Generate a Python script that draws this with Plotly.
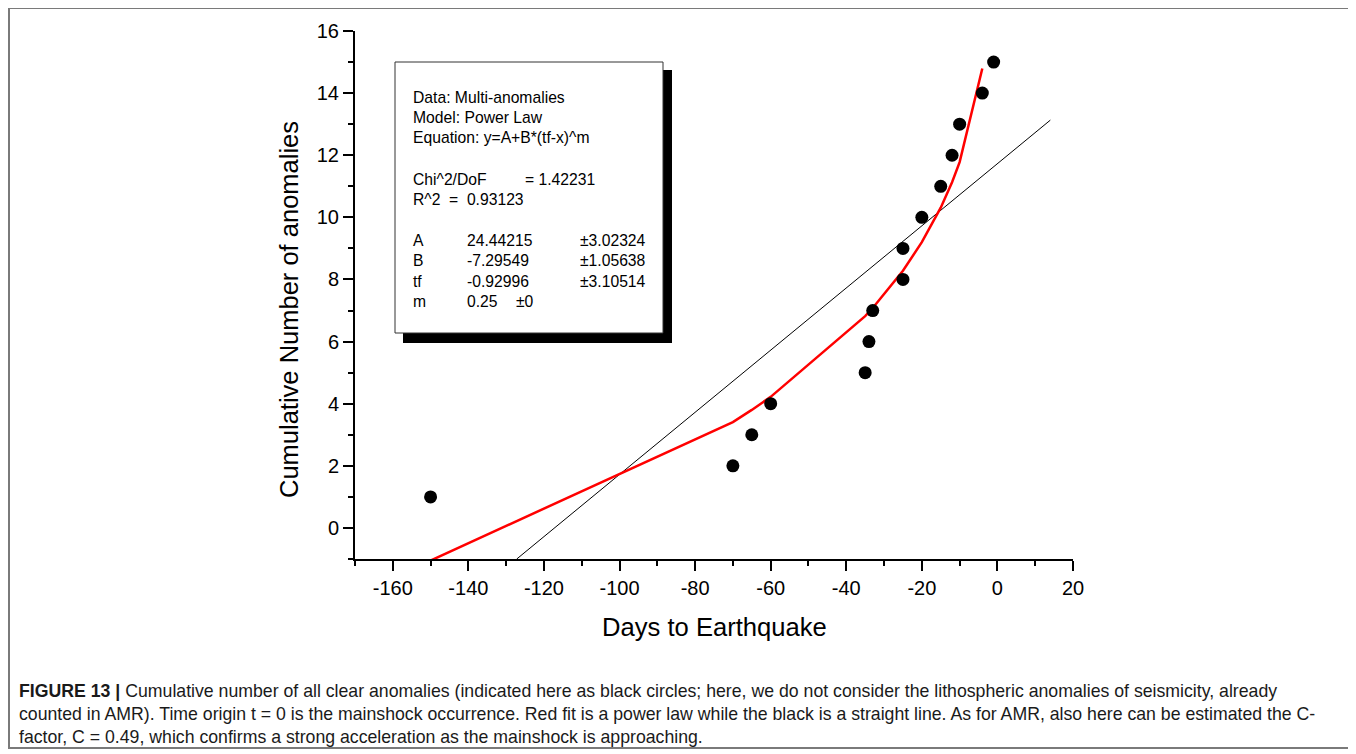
import plotly.graph_objects as go

# ---- data ----
days = [-150, -70, -65, -60, -35, -34, -33, -25, -25, -20, -15, -12, -10, -4, -1]
counts = [1, 2, 3, 4, 5, 6, 7, 8, 9, 10, 11, 12, 13, 14, 15]

power_fit_x = [-150, -70, -65, -60, -35, -34, -33, -25, -20, -15, -12, -10, -4]
power_fit_y = [-1.05, 3.41, 3.80, 4.22, 6.82, 6.95, 7.08, 8.28, 9.20, 10.31, 11.13, 11.78, 14.79]

linear_fit_x = [-127.2, 14.0]
linear_fit_y = [-1.0, 13.13]

x_range = [-170, 20]
y_range = [-1, 16]
x_tickvals = [-160, -140, -120, -100, -80, -60, -40, -20, 0, 20]
x_ticktext = ["-160", "-140", "-120", "-100", "-80", "-60", "-40", "-20", "0", "20"]
y_tickvals = [0, 2, 4, 6, 8, 10, 12, 14, 16]
y_ticktext = ["0", "2", "4", "6", "8", "10", "12", "14", "16"]

box_lines = ["Data: Multi-anomalies", "Model: Power Law", "Equation: y=A+B*(tf-x)^m"]
stat_labels = ["Chi^2/DoF", "R^2"]
stat_values = ["= 1.42231", "=  0.93123"]
param_names = ["A", "B", "tf", "m"]
param_values = ["24.44215", "-7.29549", "-0.92996", "0.25"]
param_errors = ["±3.02324", "±1.05638", "±3.10514", "±0"]

caption_lines = [
    "<b>FIGURE 13 |</b> Cumulative number of all clear anomalies (indicated here as black circles; here, we do not consider the lithospheric anomalies of seismicity, already",
    "counted in AMR). Time origin t = 0 is the mainshock occurrence. Red fit is a power law while the black is a straight line. As for AMR, also here can be estimated the C-",
    "factor, C = 0.49, which confirms a strong acceleration as the mainshock is approaching.",
]

# ---- layout geometry (window pixels; page body has an 8px margin) ----
OFF = 8
W, H = 1356 - OFF, 754 - OFF
L, R, T, B = 355 - OFF, 1073 - OFF, 31 - OFF, 559 - OFF
FONT = "Liberation Sans, Arial, sans-serif"


def px(xw):
    return (xw - OFF - L) / (R - L)


def py(yw):
    return (B - (yw - OFF)) / (B - T)


fig = go.Figure()

fig.add_trace(go.Scatter(x=linear_fit_x, y=linear_fit_y, mode="lines",
                         line=dict(color="black", width=1), showlegend=False))
fig.add_trace(go.Scatter(x=power_fit_x, y=power_fit_y, mode="lines",
                         line=dict(color="#ff0000", width=2.5), showlegend=False))
fig.add_trace(go.Scatter(x=days, y=counts, mode="markers",
                         marker=dict(color="black", size=13), showlegend=False,
                         cliponaxis=False))

axis_common = dict(
    showline=True, linewidth=2, linecolor="black", mirror=False,
    ticks="outside", ticklen=10, tickwidth=2, tickcolor="black",
    showgrid=False, zeroline=False,
    tickfont=dict(family=FONT, size=20, color="black"),
)

fig.update_xaxes(range=x_range, tickmode="array", tickvals=x_tickvals, ticktext=x_ticktext,
                 minor=dict(tickmode="linear", tick0=0, dtick=10, ticks="outside",
                            ticklen=5, tickwidth=2, tickcolor="black"),
                 **axis_common)
fig.update_yaxes(range=y_range, tickmode="array", tickvals=y_tickvals, ticktext=y_ticktext,
                 minor=dict(tickmode="linear", tick0=0, dtick=1, ticks="outside",
                            ticklen=5, tickwidth=2, tickcolor="black"),
                 **axis_common)

shapes = []
# outer figure border
shapes.append(dict(type="rect", xref="paper", yref="paper",
                   x0=px(9), x1=px(1351), y0=py(8), y1=py(748),
                   line=dict(color="#7a7a7a", width=2), fillcolor="rgba(0,0,0,0)", layer="below"))
# text box shadow and box
shapes.append(dict(type="rect", xref="paper", yref="paper",
                   x0=px(403), x1=px(672), y0=py(70), y1=py(343),
                   line=dict(color="black", width=0), fillcolor="black"))
shapes.append(dict(type="rect", xref="paper", yref="paper",
                   x0=px(395), x1=px(663), y0=py(62), y1=py(333),
                   line=dict(color="#333333", width=1), fillcolor="white"))

annotations = []


def txt(text, xw, yw, size=15.7, anchor="left", **kw):
    annotations.append(dict(text=text, xref="paper", yref="paper", x=px(xw), y=py(yw),
                            xanchor=anchor, yanchor="middle", showarrow=False,
                            font=dict(family=FONT, size=size, color="black"), **kw))


for i, s in enumerate(box_lines):
    txt(s, 411, 97 + i * 20.4)
txt(stat_labels[0], 411, 179)
txt(stat_values[0], 523, 179)
txt(stat_labels[1], 411, 199)
txt(stat_values[1], 447, 199)
for i in range(4):
    yy = 240 + i * 20.5
    txt(param_names[i], 411, yy)
    txt(param_values[i], 465, yy)
    txt(param_errors[i], 578 if i < 3 else 514, yy)

# axis titles
txt("Days to Earthquake", 714, 627, size=25.6, anchor="center")
txt("Cumulative Number of anomalies", 289, 310, size=25.5, anchor="center", textangle=-90)

# caption
for i, line in enumerate(caption_lines):
    annotations.append(dict(text=line, xref="paper", yref="paper", x=px(17), y=py(691 + i * 23),
                            xanchor="left", yanchor="middle", showarrow=False,
                            font=dict(family=FONT, size=17.7, color="#1a1a1a")))

fig.update_layout(
    width=W, height=H,
    margin=dict(l=L, r=W - R, t=T, b=H - B, pad=0),
    paper_bgcolor="white", plot_bgcolor="white",
    shapes=shapes, annotations=annotations,
    showlegend=False,
)

fig.write_html("out.html")
